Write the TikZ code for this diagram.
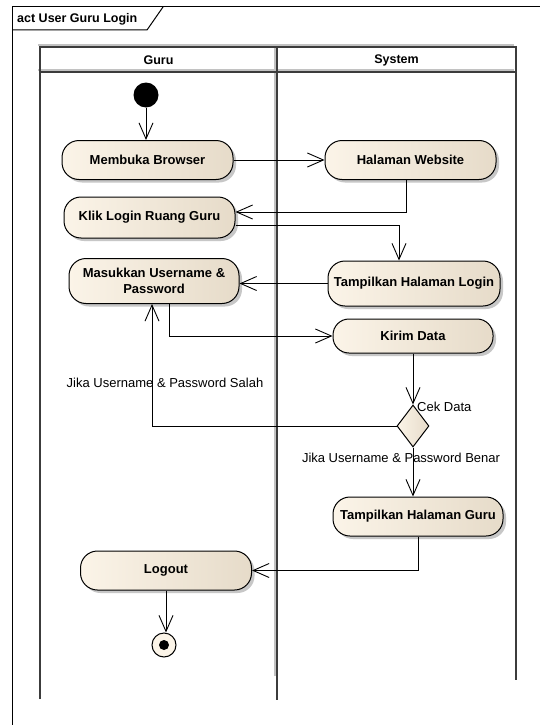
\documentclass[tikz,border=0pt]{standalone}
\usepackage{fontspec}
\setmainfont{Liberation Sans}
\usetikzlibrary{arrows.meta,shadows,shapes.geometric}

\definecolor{actL}{HTML}{FBF4E8}
\definecolor{actR}{HTML}{E6DBC9}
\definecolor{laneline}{HTML}{3C3C3C}
\definecolor{laneshade}{HTML}{C2C2C2}

\newcommand\actfont{\fontsize{13}{16}\selectfont\bfseries}
\newcommand\titlefont{\fontsize{12.5}{15}\selectfont\bfseries}
\newcommand\lblfont{\fontsize{13}{15}\selectfont}

\begin{document}
\begin{tikzpicture}[x=1pt,y=-1pt,
  action/.style={draw=black, line width=1pt, rounded corners=17pt,
    left color=actL, right color=actR,
    minimum width=171pt, minimum height=39pt, inner sep=2pt,
    font=\actfont, align=center,
    general shadow={shadow xshift=3pt, shadow yshift=-3pt, fill=black!22}},
  decision/.style={diamond, draw=black, line width=1pt, left color=actL, right color=actR,
    minimum width=32pt, minimum height=42pt, inner sep=0pt},
  flow/.style={draw=black, line width=0.9pt,
    -{Straight Barb[length=16pt, width=14pt, line width=0.9pt]}},
  lbl/.style={font=\lblfont, inner sep=1pt},
  hdr/.style={font=\titlefont, inner sep=1pt},
  lane/.style={draw=laneline, line width=1.6pt},
  laneshadow/.style={draw=laneshade, line width=1.6pt},
  frame/.style={draw=black, line width=1pt}]

\useasboundingbox (0,0) rectangle (540,725);
\clip (0,0) rectangle (540,725);
\fill[white] (0,0) rectangle (540,725);

% diagram frame with its name tab
\draw[frame] (12,740) -- (12,7) -- (560,7);
\draw[frame] (12,30) -- (147,30) -- (163,7);
\node[anchor=west, font=\titlefont, inner sep=0pt] (title) at (17,19) {act User Guru Login};

% swimlanes
\begin{scope}[shift={(-2,-2)}]
  \draw[laneshadow] (40,47) -- (516,47);
  \draw[laneshadow] (40,72) -- (516,72);
  \draw[laneshadow] (277,47) -- (277,678);
\end{scope}
\draw[lane] (40,699) -- (40,47) -- (516,47) -- (516,680);
\draw[lane] (40,72) -- (516,72);
\draw[lane] (277,47) -- (277,700);
\node[hdr] (hguru) at (158.5,60) {Guru};
\node[hdr] (hsys) at (396.5,60) {System};

% start and end
\node[circle, fill=black, minimum size=25pt, inner sep=0pt] (start) at (146,95) {};
\node[circle, draw=black, line width=1pt, fill=actL, minimum size=24pt, inner sep=0pt] (end) at (164,645) {};
\node[circle, fill=black, minimum size=10pt, inner sep=0pt] (enddot) at (end) {};

% actions
\node[action] (browser) at (147.5,160) {Membuka Browser};
\node[action] (website) at (410.5,160) {Halaman Website};
\node[action, minimum height=41pt] (klik) at (149.5,217.5) {Klik Login Ruang Guru};
\node[action, minimum width=170pt, minimum height=45pt] (masuk) at (154,281) {Masukkan Username \&\\Password};
\node[action, minimum width=172pt, minimum height=45pt] (login) at (414,283.5) {Tampilkan Halaman Login};
\node[action, minimum width=160pt, minimum height=34pt, rounded corners=16pt] (kirim) at (413,336) {Kirim Data};
\node[decision] (cek) at (413,426) {};
\node[action, minimum width=170pt] (guru) at (418,516.5) {Tampilkan Halaman Guru};
\node[action] (logout) at (166,570.5) {Logout};

% labels
\node[lbl, anchor=west, inner sep=0pt] (cekl) at (417,407) {Cek Data};
\node[lbl] (salah) at (165,383) {Jika Username \& Password Salah};
\node[lbl] (benar) at (401,458) {Jika Username \& Password Benar};

% control flows
\draw[flow] (start) -- (start |- browser.north);
\draw[flow] (browser) -- (website);
\draw[flow] ([xshift=-4.5pt]website.south) |- ([yshift=5.5pt]klik.east);
\draw[flow] ([yshift=-7.5pt]klik.east) -| ([xshift=-15pt]login.north);
\draw[flow] (login.west) -- (login.west -| masuk.east);
\draw[flow] ([xshift=15pt]masuk.south) |- (kirim.west);
\draw[flow] (kirim) -- (cek);
\draw[flow] (cek.west) -| ([xshift=-2pt]masuk.south);
\draw[flow] (cek.south) -- (cek.south |- guru.north);
\draw[flow] (guru.south) |- (logout.east);
\draw[flow] (logout.south) -- (logout.south |- end.north);
\end{tikzpicture}
\end{document}
